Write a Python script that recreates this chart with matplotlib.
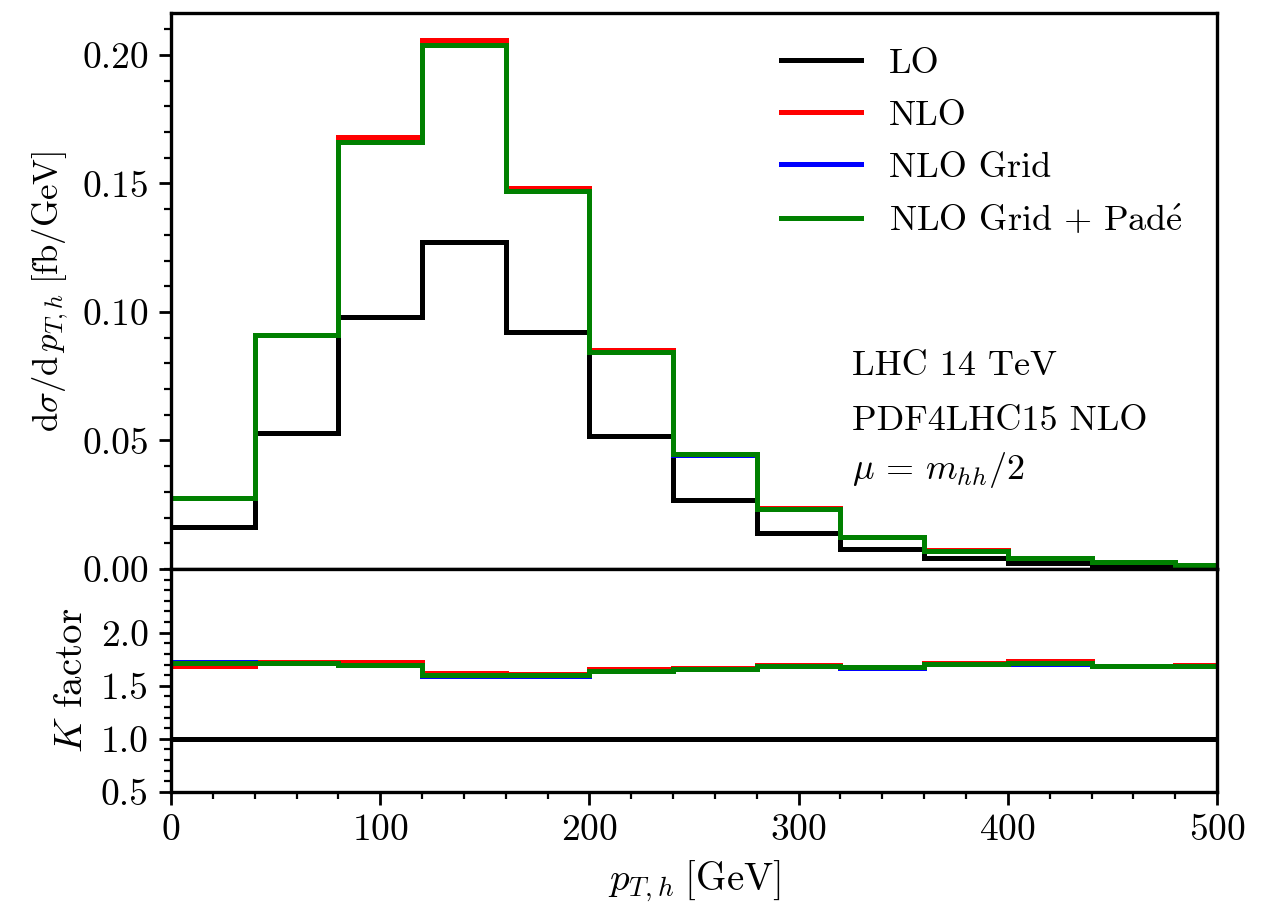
import numpy as np
import matplotlib
matplotlib.use('Agg')
import matplotlib.pyplot as plt
from matplotlib.ticker import MultipleLocator, FixedLocator, FormatStrFormatter

plt.rcParams['font.family'] = 'serif'
plt.rcParams['font.serif'] = ['cmr10']
plt.rcParams['mathtext.fontset'] = 'cm'
plt.rcParams['axes.formatter.use_mathtext'] = True
plt.rcParams['axes.unicode_minus'] = False

# bin edges in p_T,h [GeV]
edges = np.arange(0, 521, 40)

# dsigma/dpT [fb/GeV]
lo = [0.0162, 0.0530, 0.0979, 0.1271, 0.0921, 0.0517, 0.0268, 0.0139, 0.0077, 0.0042, 0.0022, 0.0010, 0.0006]
nlo = [0.0275, 0.0912, 0.1680, 0.2056, 0.1482, 0.0853, 0.0447, 0.0236, 0.0124, 0.0072, 0.0042, 0.0026, 0.0016]
nlo_grid = [0.0277, 0.0910, 0.1662, 0.2038, 0.1470, 0.0846, 0.0445, 0.0235, 0.0123, 0.0071, 0.0042, 0.0026, 0.0016]
nlo_pade = [0.0276, 0.0911, 0.1663, 0.2039, 0.1472, 0.0846, 0.0446, 0.0235, 0.0123, 0.0071, 0.0042, 0.0026, 0.0016]

# K factors
k_lo = [1.0] * 13
k_nlo = [1.69, 1.72, 1.725, 1.625, 1.615, 1.655, 1.665, 1.70, 1.67, 1.71, 1.73, 1.69, 1.70]
k_grid = [1.725, 1.715, 1.70, 1.595, 1.595, 1.64, 1.655, 1.685, 1.665, 1.705, 1.705, 1.685, 1.685]
k_pade = [1.717, 1.717, 1.70, 1.60, 1.60, 1.64, 1.66, 1.686, 1.673, 1.705, 1.71, 1.69, 1.69]

labels = ['LO', 'NLO', 'NLO Grid', r'NLO Grid $+$ Pad$\mathrm{\acute{e}}$']
colors = ['black', 'red', 'blue', 'green']
info = ['LHC 14 TeV', 'PDF4LHC15 NLO', r'$\mu \,=\, m_{hh}/2$']

fig = plt.figure(figsize=(6.37, 4.51), dpi=200)
ax1 = fig.add_axes([0.1342, 0.3692, 0.8211, 0.6164])
ax2 = fig.add_axes([0.1342, 0.1220, 0.8211, 0.2472], sharex=ax1)

lw = 1.8
for vals, c, lab in zip([lo, nlo, nlo_grid, nlo_pade], colors, labels):
    ax1.stairs(vals, edges, baseline=None, color=c, lw=lw, label=lab)
for vals, c in zip([k_lo, k_nlo, k_grid, k_pade], colors):
    ax2.stairs(vals, edges, baseline=None, color=c, lw=lw)

ax1.set_xlim(0, 500)
ax1.set_ylim(0, 0.2163)
ax2.set_ylim(0.5, 2.6)

ax1.yaxis.set_major_locator(MultipleLocator(0.05))
ax1.yaxis.set_minor_locator(MultipleLocator(0.01))
ax1.yaxis.set_major_formatter(FormatStrFormatter('%.2f'))
ax2.yaxis.set_major_locator(FixedLocator([0.5, 1.0, 1.5, 2.0]))
ax2.yaxis.set_minor_locator(MultipleLocator(0.1))
ax2.yaxis.set_major_formatter(FormatStrFormatter('%.1f'))
ax2.xaxis.set_major_locator(MultipleLocator(100))
ax2.xaxis.set_minor_locator(MultipleLocator(20))

for ax in (ax1, ax2):
    for sp in ax.spines.values():
        sp.set_linewidth(1.2)
    ax.tick_params(which='major', length=4.5, width=1.0, labelsize=13.5, direction='out')
    ax.tick_params(which='minor', length=2.5, width=0.8, direction='out')
ax1.tick_params(axis='x', which='both', bottom=False, labelbottom=False)

ax1.set_ylabel(r'$\mathrm{d}\sigma/\mathrm{d}\,p_{T,h}\;[\mathrm{fb/GeV}]$', fontsize=12.5)
ax2.set_ylabel(r'$K$ factor', fontsize=14)
ax2.set_xlabel(r'$p_{T,h}\;[\mathrm{GeV}]$', fontsize=14)
fig.align_ylabels([ax1, ax2])

ax1.legend(loc='upper right', frameon=False, fontsize=13, handlelength=2.2,
           handletextpad=0.78, labelspacing=0.55, borderaxespad=0.55)

for txt, yy in zip(info, [0.349, 0.250, 0.162]):
    ax1.text(0.651, yy, txt, transform=ax1.transAxes, fontsize=13,
             va='baseline', ha='left')

fig.savefig('out.png', dpi=200)
